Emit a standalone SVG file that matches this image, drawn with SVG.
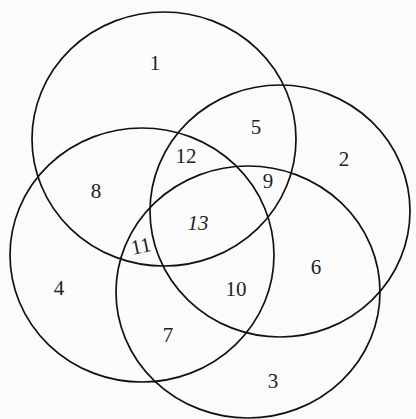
<svg xmlns="http://www.w3.org/2000/svg" width="416" height="419" viewBox="0 0 416 419">
<style>
.c{fill:none;stroke:#111;stroke-width:1.7}
.t{font-family:"Liberation Serif","DejaVu Serif",serif;font-size:21px;fill:#222;text-anchor:middle;dominant-baseline:central}
</style>
<rect width="416" height="419" fill="#fbfbfb"/>
<g id="sets">
<ellipse id="setA" class="c" cx="164" cy="139" rx="132" ry="127"/>
<ellipse id="setB" class="c" cx="142" cy="255" rx="132" ry="127"/>
<ellipse id="setC" class="c" cx="280" cy="211" rx="130" ry="126"/>
<ellipse id="setD" class="c" cx="248" cy="292" rx="132" ry="126"/>
</g>
<g id="labels">
<text class="t" x="155" y="63">1</text>
<text class="t" x="256" y="127">5</text>
<text class="t" x="186" y="156">12</text>
<text class="t" x="344" y="159">2</text>
<text class="t" x="268" y="181">9</text>
<text class="t" x="96" y="191">8</text>
<text class="t" x="198" y="223" font-style="italic">13</text>
<text class="t" x="141" y="246" font-size="17" transform="rotate(-12 141 246)">11</text>
<text class="t" x="59" y="288">4</text>
<text class="t" x="316" y="267">6</text>
<text class="t" x="236" y="289">10</text>
<text class="t" x="168" y="335">7</text>
<text class="t" x="273" y="381">3</text>
</g>
</svg>
